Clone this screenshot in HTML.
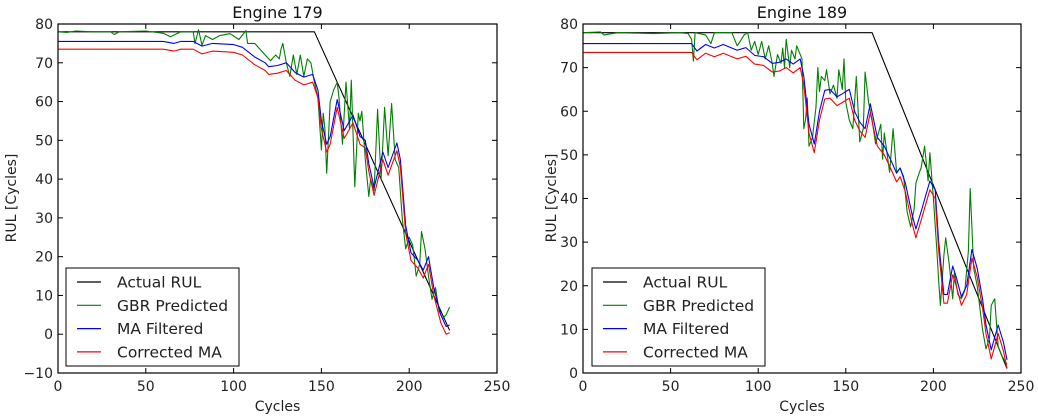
<!DOCTYPE html>
<html><head><meta charset="utf-8"><style>
body{margin:0;background:#fff;width:1038px;height:418px;overflow:hidden}
svg{display:block;font-family:"DejaVu Sans","Liberation Sans",sans-serif}
</style></head><body>
<svg id="chart" width="1038" height="418" viewBox="0 0 1038 418"></svg>
<script>
// ---- Engine 179 data ----
const e179ActualX=[0,146,223];
const e179ActualY=[78,78,1];
const e179GbrX=[0,5,10,20,30,32,35,50,60,64,70,77,78,80,82,84,88,92,98,103,107,108,112,116,118,121,124,126,127,128,130,132,134,136,138,140,142,144,146,148,150,151,152,153,155,157,159,160,162,164,166,167,169,171,172,173,175,177,178,180,182,184,186,188,190,192,194,196,198,200,202,204,206,207,209,211,213,215,217,219,221,223];
const e179GbrY=[78,77.8,78.2,78,78,77.3,78,78.2,77.6,76.7,78,78,75,78.5,74.5,77,76,77,77.5,76,78.3,75,75,73,72,70.5,72,71,73.5,75,70,66.5,72,67,72,66.5,71,70,65,61,47.5,57,53,41.5,60,63,65,61,49,65,53,65.5,38,57,55,57.5,45,35.5,40,37,58,40,58.5,46,59.5,45,43,30,22,25,23,15,18,26.5,22,15,9,12,6,4,5,7];
const e179MaX=[0,60,66,70,77,82,88,100,105,112,118,120,125,130,135,140,145,148,150,153,155,159,163,168,172,175,177,180,185,188,193,195,198,201,205,208,211,214,218,221,223];
const e179MaY=[75.5,75.5,75,75.5,75.5,74.3,75,74.7,74,71.5,70,69,69.3,70,67.5,66.3,67,63,55,49,51,60.5,52.5,56.5,51,50,44,37.8,47,43,49.3,45,28,21,19,16.5,20,12,5,2,2.4];
const e179CorrY=[73.5,73.5,73,73.5,73.5,72.3,73,72.7,72,69.5,68,67,67.3,68,65.5,64.3,65,61,53,47,49,58.5,50.5,54.5,49,48,42,35.8,45,41,47.3,43,26,19,17,14.5,18,10,3,0,0.4];
// ---- Engine 189 data ----
const e189ActualX=[0,165,242];
const e189ActualY=[78,78,1];
const e189GbrX=[0,10,12,20,40,55,60,62,63,64,70,73,75,85,88,92,94,96,98,100,102,104,106,108,109,111,113,114,115,116,118,119,121,122,124,125,126,127,128,129,131,133,134,135,136,138,139,141,143,145,146,148,149,150,152,154,156,158,160,161,163,165,167,168,170,171,172,175,177,179,181,183,185,187,189,190,192,193,195,197,198,200,202,203,204,206,207,209,211,212,214,216,218,220,221,223,225,228,230,232,233,235,237,239,242];
const e189GbrY=[78,78.2,77.5,78,77.8,78,77.8,76.5,71.5,78,77.5,75.5,78,78,75,77.5,78,74,76,73,76,72,75,71,68,73,71,74.5,70,76.5,70,74,72,75,73,72,56,58,63,52,54,61,70,64.5,68,67,69.5,64,66,63,69.5,65,72,62,58,56,68,53,56,69,62,58,52.5,54,57,49,55,46,56,46,47,45,37,33.5,37.5,43.5,46,47,52,44,50.5,40,28,21,15.5,27,31,25,17,23,18,17,19,28,42.3,24,20,10,5.5,8,15.5,17,6,4,2];
const e189MaX=[0,62,65,70,75,80,88,93,98,103,108,112,116,120,124,126,129,132,135,138,141,145,148,152,155,158,161,164,168,172,176,179,181,184,188,190,193,198,201,203,206,208,211,213,216,219,222,225,228,230,233,237,240,242];
const e189MaY=[75.5,75.5,73.8,75.3,74.5,75.3,74,74.6,72.8,72.5,71,71.2,72,70.8,72,68,57,52.5,60,64.8,65,63.3,64,65,60,57.5,56,61.7,54,52,48.5,45.8,47,43.5,36,33,37,44,42,30,18,18,24.5,22,17.5,20,28.3,24,17,11,5.3,11,7,3];
const e189CorrY=[73.5,73.5,71.8,73.3,72.5,73.3,72,72.6,70.8,70.5,69,69.2,70,68.8,70,66,55,50.5,58,62.8,63,61.3,62,63,58,55.5,54,59.7,52,50,46.5,43.8,45,41.5,34,31,35,42,40,28,16,16,22.5,20,15.5,18,26.3,22,15,9,3.2,9,5,1];
const xTicks=[0,50,100,150,200,250];
const yTicks179=[-10,0,10,20,30,40,50,60,70,80];
const yTicks189=[0,10,20,30,40,50,60,70,80];
const legendLabels=["Actual RUL","GBR Predicted","MA Filtered","Corrected MA"];
const colors=["#000000","#007f00","#0000ff","#ff0000"];

const svg=document.getElementById('chart');
const NS="http://www.w3.org/2000/svg";
function mk(tag,attrs,parent){const e=document.createElementNS(NS,tag);for(const k in attrs)e.setAttribute(k,attrs[k]);(parent||svg).appendChild(e);return e;}

function panel(cfg){
  const g=mk('g',{});
  
  
  const L=cfg.left,R=cfg.right,T=24,B=373;
  const sx=v=>L+(v-0)/(250-0)*(R-L);
  const sy=v=>B-(v-cfg.ymin)/(80-cfg.ymin)*(B-T);
  const series=[[cfg.ax,cfg.ay],[cfg.gx,cfg.gy],[cfg.mx,cfg.my],[cfg.mx,cfg.cy]];
  const names=['actual-rul-line','gbr-predicted-line','ma-filtered-line','corrected-ma-line'];
  series.forEach((s,i)=>{
    const d=s[0].map((x,j)=>(j?'L':'M')+sx(x).toFixed(1)+','+sy(s[1][j]).toFixed(1)).join('');
    const p=mk('path',{d:d,fill:'none',stroke:colors[i],'stroke-width':1.1,'stroke-linejoin':'round'},g);
    
    
  });
  const frame=mk('rect',{x:L,y:T,width:R-L,height:B-T,fill:'none',stroke:'#000','stroke-width':1.2},g);
  
  
  xTicks.forEach(v=>{
    const x=sx(v);
    mk('line',{x1:x,x2:x,y1:B,y2:B-5,stroke:'#000'},g);
    mk('line',{x1:x,x2:x,y1:T,y2:T+5,stroke:'#000'},g);
    const t=mk('text',{x:x,y:B+18,'text-anchor':'middle','font-size':14,fill:'#222'},g);
    t.textContent=v;
    
    
  });
  cfg.yt.forEach(v=>{
    const y=sy(v);
    mk('line',{x1:L,x2:L+5,y1:y,y2:y,stroke:'#000'},g);
    mk('line',{x1:R,x2:R-5,y1:y,y2:y,stroke:'#000'},g);
    const t=mk('text',{x:L-5,y:y+5,'text-anchor':'end','font-size':14,fill:'#222'},g);
    t.textContent=v<0?'\u2212'+(-v):v;
    
    
  });
  const title=mk('text',{x:(L+R)/2,y:18,'text-anchor':'middle','font-size':16,fill:'#111'},g);
  title.textContent=cfg.title;
  
  
  const xl=mk('text',{x:(L+R)/2,y:411,'text-anchor':'middle','font-size':14,fill:'#222'},g);
  xl.textContent='Cycles';
  
  
  const yl=mk('text',{x:0,y:0,'text-anchor':'middle','font-size':14,fill:'#222',transform:'translate('+cfg.ylx+',198) rotate(-90)'},g);
  yl.textContent='RUL [Cycles]';
  
  
  const lg=mk('g',{},g);
  
  
  mk('rect',{x:cfg.lgx,y:268,width:173,height:98,fill:'#fff',stroke:'#000','stroke-width':1},lg);
  legendLabels.forEach((lab,i)=>{
    const y=282+i*23.3;
    mk('line',{x1:cfg.lgx+11,x2:cfg.lgx+35,y1:y,y2:y,stroke:colors[i],'stroke-width':1.2},lg);
    const t=mk('text',{x:cfg.lgx+51,y:y+5.5,'font-size':15.5,fill:'#222'},lg);
    t.textContent=lab;
    
    
  });
}
panel({name:'engine-179-chart',title:'Engine 179',left:58,right:497,ymin:-10,yt:yTicks179,ylx:16,lgx:66,
  ax:e179ActualX,ay:e179ActualY,gx:e179GbrX,gy:e179GbrY,mx:e179MaX,my:e179MaY,cy:e179CorrY});
panel({name:'engine-189-chart',title:'Engine 189',left:583,right:1021,ymin:0,yt:yTicks189,ylx:556,lgx:592,
  ax:e189ActualX,ay:e189ActualY,gx:e189GbrX,gy:e189GbrY,mx:e189MaX,my:e189MaY,cy:e189CorrY});
</script>
</body></html>
